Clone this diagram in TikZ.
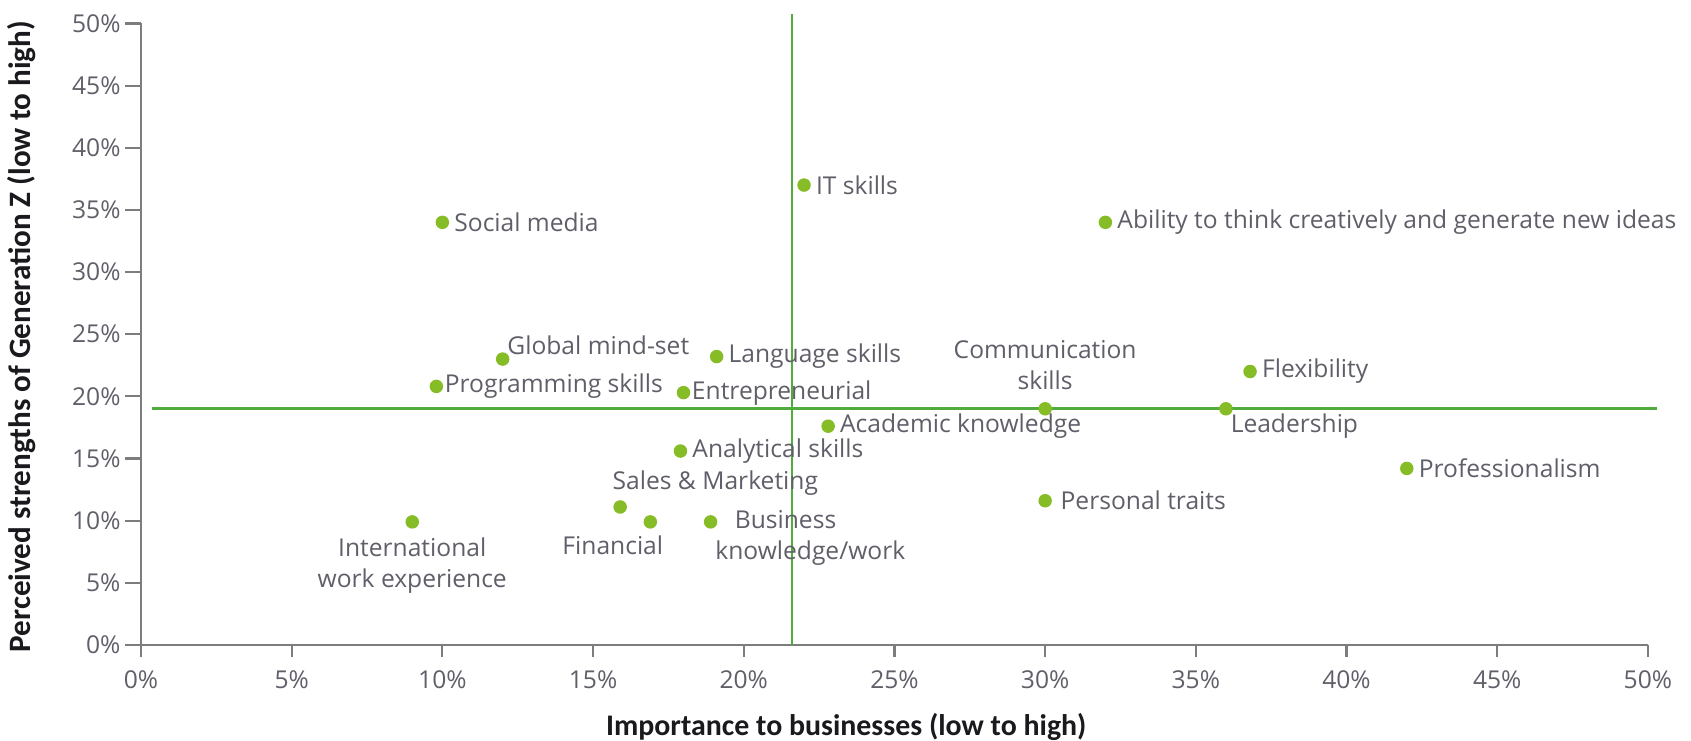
\documentclass[tikz,border=0pt]{standalone}
\usepackage{fontspec}
\setmainfont{Open Sans}
\newfontfamily\titlefont{Carlito}
\usetikzlibrary{positioning,calc}

\definecolor{dotgreen}{RGB}{134,188,37}
\definecolor{quadgreen}{RGB}{80,172,60}
\definecolor{labelgray}{RGB}{95,95,105}
\definecolor{axisgray}{RGB}{125,125,125}
\definecolor{titleblack}{RGB}{25,25,30}

\begin{document}
\begin{tikzpicture}[x=0.6028cm,y=0.2486cm,every node/.style={outer sep=0pt,text=labelgray,font=\fontsize{14}{17.6}\selectfont}]
\tikzstyle{dot}=[circle,fill=dotgreen,inner sep=0pt,minimum size=0.27cm]
\tikzstyle{lbl}=[inner sep=1pt]
\tikzstyle{axis}=[draw=axisgray,line width=1.2pt]
\tikzstyle{quad}=[draw=quadgreen,line width=1.5pt]
\tikzstyle{axtitle}=[text=titleblack,font=\fontsize{17}{20}\selectfont\titlefont\bfseries]

\useasboundingbox (-4.678,-7.72) rectangle (51.43,51.89);

% axes and ticks
\coordinate (O) at (0,0);
\coordinate (xmax) at (50,0);
\coordinate (ymax) at (0,50);
\draw [axis] ($(O)+(-0.27,0)$) -- (xmax);
\draw [axis] (O) -- (ymax);
\foreach \v in {0,5,...,50} {
  \draw [axis] (0,\v) -- (-0.53,\v);
  \node (ylab\v) [anchor=east,inner sep=0pt] at (-0.68,\v) {\v\%};
  \draw [axis] (\v,0) -- (\v,-0.97);
  \node (xlab\v) [inner sep=0pt] at (\v,-2.82) {\v\%};
}
\node (xtitle) [axtitle] at (23.4,-6.6) {Importance to businesses (low to high)};
\node (ytitle) [axtitle,rotate=90,font=\fontsize{17.7}{20}\selectfont\titlefont\bfseries] at (-3.95,24.8) {Perceived strengths of Generation Z (low to high)};

% quadrant lines
\coordinate (vbot) at (21.6,0);
\coordinate (vtop) at (21.6,50.8);
\coordinate (hleft) at (0.37,19);
\coordinate (hright) at (50.3,19);
\draw [quad] (vbot) -- (vtop);
\draw [quad] (hleft) -- (hright);

% skills
\node (social) [dot] at (10,34) {};
\node (it) [dot] at (22,37) {};
\node (ability) [dot] at (32,34) {};
\node (global) [dot] at (12,23) {};
\node (language) [dot] at (19.1,23.2) {};
\node (prog) [dot] at (9.8,20.8) {};
\node (entre) [dot] at (18,20.3) {};
\node (comm) [dot] at (30,19) {};
\node (flex) [dot] at (36.8,22) {};
\node (lead) [dot] at (36,19) {};
\node (acad) [dot] at (22.8,17.6) {};
\node (analyt) [dot] at (17.9,15.6) {};
\node (prof) [dot] at (42,14.2) {};
\node (sales) [dot] at (15.9,11.1) {};
\node (personal) [dot] at (30,11.6) {};
\node (intl) [dot] at (9,9.9) {};
\node (fin) [dot] at (16.9,9.9) {};
\node (bus) [dot] at (18.9,9.9) {};

% labels
\node (socialL) [lbl,right=2pt of social] {Social media};
\node (itL) [lbl,right=2pt of it] {IT skills};
\node (abilityL) [lbl,right=2pt of ability] {Ability to think creatively and generate new ideas};
\node (globalL) [lbl,above right=-1pt and -1pt of global] {Global mind-set};
\node (languageL) [lbl,right=2pt of language] {Language skills};
\node (progL) [lbl,right=0pt of prog] {Programming skills};
\node (entreL) [lbl,right=0pt of entre] {Entrepreneurial};
\node (commL) [lbl,align=center,above=6pt of comm] {Communication\\skills};
\node (flexL) [lbl,right=2pt of flex] {Flexibility};
\node (leadL) [lbl,below right=-1pt and -1pt of lead] {Leadership};
\node (acadL) [lbl,right=2pt of acad] {Academic knowledge};
\node (analytL) [lbl,right=2pt of analyt] {Analytical skills};
\node (profL) [lbl,right=2pt of prof] {Professionalism};
\node (salesL) [lbl,above right=3pt and -8pt of sales] {Sales \& Marketing};
\node (personalL) [lbl,right=4pt of personal] {Personal traits};
\node (intlL) [lbl,align=center,below=4pt of intl] {International\\work experience};
\node (finL) [lbl,below left=4pt and -11pt of fin] {Financial};
\node (busL) [lbl,align=left,below right=-10pt and -1pt of bus] {\hspace*{0.39cm}Business\\knowledge/work};
\end{tikzpicture}
\end{document}
